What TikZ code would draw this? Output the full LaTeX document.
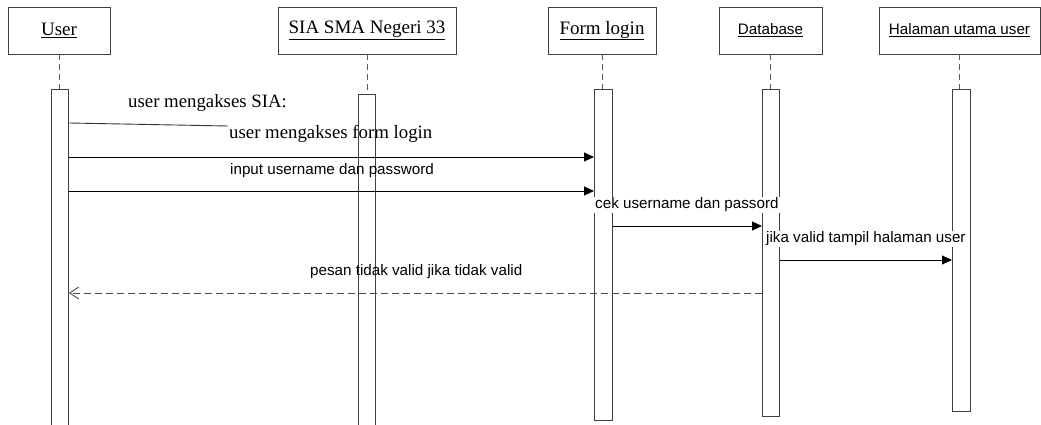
\documentclass[tikz,border=0pt]{standalone}
\usepackage{fontspec}
\setmainfont{Liberation Serif}
\setsansfont{Liberation Sans}
\usetikzlibrary{arrows.meta}
\begin{document}
\begin{tikzpicture}[x=1pt,y=-1pt,
  head/.style={draw=black!75,line width=0.9pt,minimum height=47pt,inner sep=0pt,font=\fontsize{19}{22}\selectfont},
  headsf/.style={head,font=\sffamily\fontsize{15.2}{18}\selectfont},
  act/.style={draw=black!75,line width=0.9pt,fill=white,inner sep=0pt,anchor=north west},
  life/.style={draw=black!65,line width=0.9pt,dash pattern=on 6pt off 4pt},
  msg/.style={draw=black,line width=0.9pt,-{Triangle[length=10pt,width=9pt]}},
  ret/.style={draw=black!70,line width=0.9pt,dash pattern=on 7pt off 4pt,-{Straight Barb[length=9pt,width=12pt]}},
  lbl/.style={inner sep=0pt,anchor=west,font=\sffamily\fontsize{15.2}{18}\selectfont},
  wlbl/.style={lbl,fill=white,inner sep=1pt},
  slbl/.style={inner sep=0pt,anchor=west,font=\fontsize{18.8}{22}\selectfont},
]
\useasboundingbox (0,0) rectangle (1041,425);
\clip (0,0) rectangle (1041,425);

% headers
\node[head,minimum width=102pt] (uh) at (59,30.5) {\underline{User}};
\node[head,minimum width=178pt] (sh) at (367,30.5) {\underline{SIA SMA Negeri 33}};
\node[head,minimum width=108pt] (fh) at (602,30.5) {\underline{Form login}};
\node[headsf,minimum width=103pt] (dh) at (770.5,30.5) {\underline{Database}};
\node[headsf,minimum width=161pt] (hh) at (959.5,30.5) {\underline{Halaman utama user}};

% activations
\node[act,minimum width=17pt,minimum height=345pt] (ua) at (51,89) {};
\node[act,minimum width=17pt,minimum height=340pt] (sa) at (358,94) {};
\node[act,minimum width=18pt,minimum height=331pt] (fa) at (594,89) {};
\node[act,minimum width=17pt,minimum height=327pt] (da) at (762,89) {};
\node[act,minimum width=18pt,minimum height=322pt] (ha) at (952,89) {};

% lifelines
\draw[life] (uh.south) -- (uh.south |- ua.north);
\draw[life] (sh.south) -- (sh.south |- sa.north);
\draw[life] (fh.south) -- (fh.south |- fa.north);
\draw[life] (dh.south) -- (dh.south |- da.north);
\draw[life] (hh.south) -- (hh.south |- ha.north);

% messages
\coordinate (m1end) at (228,126);
\draw[draw=black!80,line width=0.9pt] (ua.east |- 0,123) -- (m1end);
\node[slbl] (t1) at (128,103) {user mengakses SIA:};

\draw[msg] (ua.east |- 0,157) -- (fa.west |- 0,157);
\node[slbl] (t2) at (229,134) {user mengakses form login};

\draw[msg] (ua.east |- 0,191) -- (fa.west |- 0,191);
\node[lbl] (t3) at (230,171) {input username dan password};

\draw[msg] (fa.east |- 0,226) -- (da.west |- 0,226);
\node[wlbl] (t4) at (594,205) {cek username dan passord};

\draw[msg] (da.east |- 0,260) -- (ha.west |- 0,260);
\node[wlbl] (t5) at (765,239) {jika valid tampil halaman user};

\draw[ret] (da.west |- 0,293) -- (ua.east |- 0,293);
\node[lbl] (t6) at (310,272) {pesan tidak valid jika tidak valid};
\end{tikzpicture}
\end{document}
